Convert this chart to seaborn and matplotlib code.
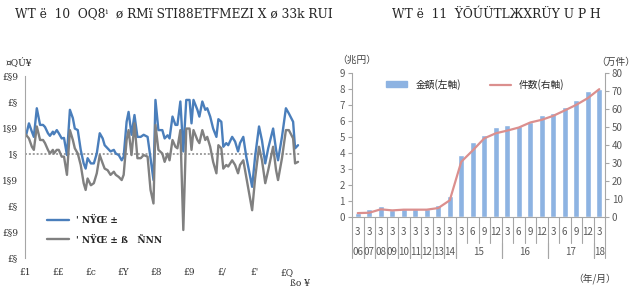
import numpy as np
import pandas as pd
import matplotlib.pyplot as plt
from matplotlib.patches import Patch
from matplotlib.lines import Line2D
import seaborn as sns

# ---- left panel: two monthly-ish series ----
t = [10.03, 10.12, 10.21, 10.27, 10.36, 10.46, 10.55, 10.61, 10.70, 10.76,
     10.85, 10.88, 10.97, 11.03, 11.12, 11.19, 11.28, 11.37, 11.46, 11.52,
     11.61, 11.70, 11.79, 11.85, 11.91, 12.01, 12.10, 12.19, 12.28, 12.37,
     12.43, 12.52, 12.61, 12.71, 12.77, 12.86, 12.95, 13.01, 13.10, 13.16,
     13.25, 13.34, 13.43, 13.53, 13.62, 13.74, 13.83, 13.92, 13.98, 14.07,
     14.19, 14.26, 14.35, 14.41, 14.50, 14.59, 14.65, 14.74, 14.83, 14.92,
     15.02, 15.08, 15.14, 15.26, 15.32, 15.41, 15.50, 15.56, 15.65, 15.74,
     15.84, 15.90, 15.99, 16.05, 16.14, 16.20, 16.32, 16.41, 16.50, 16.56,
     16.66, 16.75, 16.84, 16.93, 17.02, 17.14, 17.23, 17.33, 17.42, 17.57,
     17.66, 17.72, 17.84, 17.96, 18.05, 18.18, 18.24, 18.33]
blue_vals = [0.35, 0.59, 0.43, 0.33, 0.88, 0.56, 0.56, 0.52, 0.40, 0.35,
             0.43, 0.38, 0.46, 0.40, 0.30, 0.31, -0.02, 0.85, 0.69, 0.49,
             0.46, 0.08, -0.18, -0.28, -0.08, -0.18, -0.18, 0.01, 0.40, 0.30,
             0.17, 0.11, 0.05, 0.08, 0.01, -0.02, -0.12, -0.05, 0.62, 0.81,
             0.37, 0.75, 0.33, 0.33, 0.37, 0.33, -0.08, -0.50, 1.04, 0.46,
             0.46, 0.30, 0.36, 0.30, 0.72, 0.56, 0.56, 1.01, 0.05, 1.04,
             1.04, 0.59, 1.04, 0.85, 0.72, 1.01, 0.85, 0.88, 0.72, 0.49,
             0.33, 0.67, 0.62, 0.14, 0.21, 0.17, 0.33, 0.24, 0.05, 0.21,
             0.33, -0.05, -0.34, -0.63, -0.05, 0.53, 0.26, -0.18, 0.11, 0.49,
             0.08, -0.12, 0.33, 0.88, 0.78, 0.62, 0.11, 0.17]
gray_vals = [0.37, 0.30, 0.14, 0.08, 0.53, 0.27, 0.27, 0.21, 0.08, 0.01,
             0.08, 0.01, 0.08, 0.08, -0.05, -0.05, -0.40, 0.46, 0.27, 0.11,
             0.01, -0.21, -0.56, -0.69, -0.47, -0.60, -0.56, -0.37, -0.02, -0.18,
             -0.28, -0.31, -0.40, -0.34, -0.40, -0.44, -0.50, -0.40, 0.27, 0.46,
             -0.02, 0.59, -0.08, -0.08, -0.02, -0.05, -0.69, -0.95, 0.56, 0.08,
             0.01, -0.15, 0.01, -0.12, 0.27, 0.14, 0.11, 0.46, -1.46, 0.49,
             0.49, 0.08, 0.46, 0.27, 0.21, 0.46, 0.27, 0.33, 0.14, -0.15,
             -0.37, 0.17, 0.11, -0.28, -0.21, -0.24, -0.12, -0.21, -0.37, -0.21,
             -0.12, -0.44, -0.76, -1.08, -0.47, 0.14, -0.12, -0.56, -0.31, 0.14,
             -0.31, -0.50, -0.08, 0.46, 0.46, 0.30, -0.18, -0.15]

left_yticks = [1.5, 1.0, 0.5, 0.0, -0.5, -1.0, -1.5, -2.0]
left_ytick_labels = ["£§9", "£§", "1§9", "1§", "1§9", "£§", "£§9", "£§"]
left_xticks = [10, 11, 12, 13, 14, 15, 16, 17, 18]
left_xtick_labels = ["£1", "££", "£c", "£Y", "£8", "£9", "£/", "£'", "£Q"]
left_series = ["' NŸŒ ±", "' NŸŒ ± ß   ÑNN"]

# ---- right panel: amount (bars, left axis) and count (line, right axis) ----
months = ["3"] * 9 + ["3", "6", "9", "12", "3", "6", "9", "12",
                      "3", "6", "9", "12", "3"]
year_labels = ["06", "07", "08", "09", "10", "11", "12", "13", "14",
               "15", "16", "17", "18"]
year_sizes = [1, 1, 1, 1, 1, 1, 1, 1, 1, 4, 4, 4, 1]
amount = [0.28, 0.52, 0.69, 0.42, 0.52, 0.52, 0.52, 0.73, 1.32, 3.87, 4.71,
          5.13, 5.61, 5.73, 5.69, 5.96, 6.36, 6.53, 6.86, 7.28, 7.85, 7.99]
count = [2.2, 2.4, 4.3, 3.7, 4.1, 4.1, 4.1, 5.0, 9.3, 30.7, 37.0,
         43.7, 46.5, 48.0, 49.7, 52.5, 54.0, 56.2, 59.2, 62.3, 66.0, 71.0]

BLUE = "#4A7EBB"
GRAY = "#808080"
BAR = "#8DB3E2"
PINK = "#DB8F8E"
AX = "#A6A6A6"

sns.set_style("white")
plt.rcParams["font.family"] = ["Noto Sans CJK JP", "DejaVu Sans"]
serif = ["DejaVu Serif"]

fig = plt.figure(figsize=(6.4, 3.04), dpi=100)

# ================= left chart =================
axl = fig.add_axes([25 / 640, 0.151, 275 / 640, 0.599])
df_l = pd.DataFrame({"t": t, "a": blue_vals, "b": gray_vals})
sns.lineplot(data=df_l, x="t", y="a", ax=axl, color=BLUE, lw=1.7, label=left_series[0])
sns.lineplot(data=df_l, x="t", y="b", ax=axl, color=GRAY, lw=1.7, label=left_series[1])
axl.axhline(0, color="#A0A0A0", ls=(0, (1, 1)), lw=1.4, zorder=0)
axl.set_xlim(10.03, 18.39)
axl.set_ylim(-2.0, 1.5)
axl.set_yticks(left_yticks)
axl.set_yticklabels(left_ytick_labels, family=serif, fontsize=6.5)
axl.set_xticks(left_xticks)
axl.set_xticklabels(left_xtick_labels, family=serif, fontsize=6.5)
axl.set_xlabel("")
axl.set_ylabel("")
for s in ["top", "right", "bottom"]:
    axl.spines[s].set_visible(False)
axl.spines["left"].set_color(AX)
axl.tick_params(axis="y", length=3, color=AX, pad=2, labelcolor="#333333")
axl.tick_params(axis="x", length=0, pad=7, labelcolor="#333333")
axl.legend(loc="lower left", bbox_to_anchor=(0.05, 0.03), frameon=False,
           handlelength=2.4, labelspacing=1.1, prop={"family": serif, "size": 6.5,
                                                    "weight": "bold"})
fig.text(6 / 640, 1 - 62 / 304, "¤QÚ¥", family=serif, fontsize=6.5, va="center")
fig.text(290 / 640, 1 - 283 / 304, "ßo ¥", family=serif, fontsize=6.5, va="center")
fig.text(15 / 640, 1 - 14 / 304, "WT ë  10  OQ8ⁱ  ø RMï STI88ETFMEZI X ø 33k RUI",
         family=serif, fontsize=8.8, va="center")

# ================= right chart =================
axr = fig.add_axes([352 / 640, 0.286, 253 / 640, 0.474])
x_idx = np.arange(len(amount))
sns.barplot(x=x_idx, y=amount, ax=axr, color=BAR, saturation=1, width=0.48)
axr.set_ylim(0, 9)
axr.set_xlim(-0.5, len(amount) - 0.5)
axr.set_yticks(range(0, 10))
axr.set_xticks([])
for s in ["top", "right"]:
    axr.spines[s].set_visible(False)
for s in ["left", "bottom"]:
    axr.spines[s].set_color(AX)
axr.tick_params(axis="y", length=3, color=AX, labelsize=7, pad=2, labelcolor="#595959")

ax2 = axr.twinx()
sns.lineplot(x=x_idx, y=count, ax=ax2, color=PINK, lw=1.6)
ax2.set_ylim(0, 80)
ax2.set_yticks(range(0, 90, 10))
for s in ["top", "left", "bottom"]:
    ax2.spines[s].set_visible(False)
ax2.spines["right"].set_color(AX)
ax2.tick_params(axis="y", length=3, color=AX, labelsize=7, pad=2, labelcolor="#595959")
ax2.set_xlim(-0.5, len(amount) - 0.5)

# category axis: month row and year row
trans = axr.get_xaxis_transform()
for i, m in enumerate(months):
    axr.text(i, -0.105, m, transform=trans, ha="center", va="center",
             fontsize=7, color="#595959")
for b in np.arange(len(months) + 1) - 0.5:
    axr.plot([b, b], [0, -0.18], transform=trans, color=AX, lw=0.8, clip_on=False)
start = 0
for lab, n in zip(year_labels, year_sizes):
    mid = start + (n - 1) / 2
    axr.text(mid, -0.245, lab, transform=trans, ha="center", va="center",
             fontsize=7, color="#595959")
    for b in (start - 0.5, start + n - 0.5):
        axr.plot([b, b], [-0.18, -0.285], transform=trans, color=AX, lw=0.8,
                 clip_on=False)
    start += n

handles = [Patch(color=BAR), Line2D([0], [0], color=PINK, lw=1.6)]
axr.legend(handles, ["金額(左軸)", "件数(右軸)"], loc="upper left",
           bbox_to_anchor=(0.1, 1.02), ncol=2, frameon=False, fontsize=7,
           handlelength=2.2, handleheight=0.5, columnspacing=3.0)

fig.text(337 / 640, 1 - 60 / 304, "（兆円）", fontsize=7, va="center", color="#404040")
fig.text(596 / 640, 1 - 62 / 304, "（万件）", fontsize=7, va="center", color="#404040")
fig.text(573 / 640, 1 - 279 / 304, "（年/月）", fontsize=7, va="center", color="#404040")
fig.text(392 / 640, 1 - 14 / 304, "WT ë  11  ŸÕÚÜTLЖXRÜY U P H",
         family=serif, fontsize=8.8, va="center")

fig.savefig("out.png", dpi=100)
